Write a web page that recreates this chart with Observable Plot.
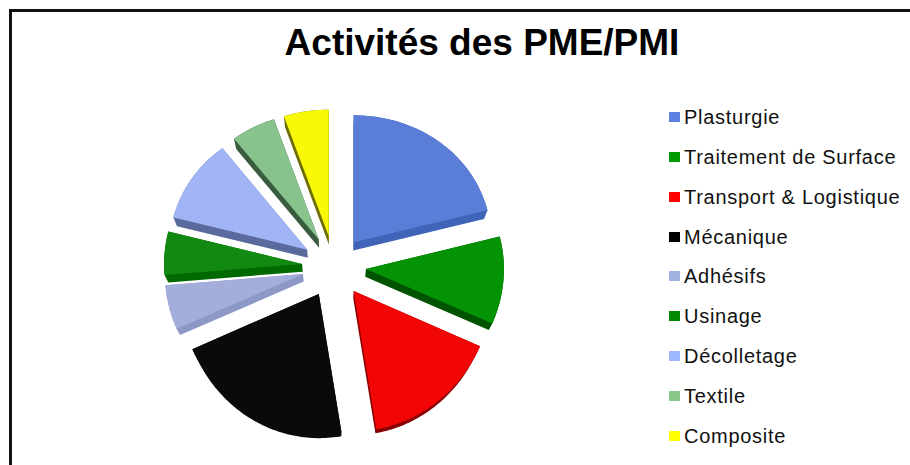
<!DOCTYPE html>
<html><head><meta charset="utf-8">
<script src="https://cdn.jsdelivr.net/npm/d3@7"></script>
<script src="https://cdn.jsdelivr.net/npm/@observablehq/plot@0.6"></script>
<style>
html,body{margin:0;padding:0;background:#fff;overflow:hidden}
#page{position:relative;width:910px;height:465px;overflow:hidden;font-family:"Liberation Sans",Arial,sans-serif;color:#000}
#border{position:absolute;left:9px;top:9px;width:920px;height:480px;border-left:3px solid #111;border-top:3px solid #111}
#title{position:absolute;left:12px;top:19px;text-align:center;font-weight:bold;font-size:37px;line-height:48px;width:940px}
#chart{position:absolute;left:0;top:90px}
#legend{position:absolute;left:668px;top:0}
.row{position:absolute;left:0;white-space:nowrap;font-size:20px;line-height:24px;height:24px;letter-spacing:.72px;padding-left:16px;color:#111}
.sw{position:absolute;left:1px;top:7px;width:11px;height:10px}
</style></head><body>
<div id="page"><div id="border"></div><div id="title">Activités des PME/PMI</div><div id="chart"></div><div id="legend"></div></div>
<script>
const categories = ["Plasturgie","Traitement de Surface","Transport & Logistique","Mécanique","Adhésifs","Usinage","Décolletage","Textile","Composite"];
const values = [20,10,15,20,5,5,10,5,5];
const faceColors = ["#5a7ed8","#049304","#f20505","#0a0a0a","#a3aedb","#128a12","#a0b4f6","#88c28c","#f8f808"];
const sideColors = ["#4064b8","#005400","#8a0000","#0a0a0a","#8c98c6","#006a00","#5a6a9c","#3a5c3e","#6e6e00"];
const legendColors = ["#5b82e0","#009900","#ff0000","#000000","#a0b0e0","#008800","#a0b8ff","#88c888","#ffff00"];

const explode = 0.232, k = 0.978, vanishY = 2.6, tilt = 0.036;
const project = ([x, y]) => [x, y + tilt * y * y];
const arcs = d3.pie().sort(null)(values);
const faces = [], sides = [];
arcs.forEach((a, i) => {
  const mid = (a.startAngle + a.endAngle) / 2;
  const ox = explode * Math.sin(mid), oy = -explode * Math.cos(mid);
  const pts = [[ox, oy]];
  const n = Math.ceil((a.endAngle - a.startAngle) / 0.02);
  for (let j = 0; j <= n; j++) {
    const t = a.startAngle + (a.endAngle - a.startAngle) * j / n;
    pts.push([ox + Math.sin(t), oy - Math.cos(t)]);
  }
  const face = pts.map(project);
  const back = face.map(([x, y]) => [x * k, vanishY + (y - vanishY) * k]);
  d3.polygonHull(face.concat(back)).forEach(([x, y]) => sides.push({x, y, key: i, color: sideColors[i]}));
  face.forEach(([x, y]) => faces.push({x, y, key: i, color: faceColors[i]}));
});

const chart = Plot.plot({
  width: 630, height: 375, margin: 0,
  x: {domain: [-1, 1], range: [195.5, 471.5], axis: null},
  y: {domain: [-1, 1], range: [42.5, 309.5], axis: null},
  marks: [
    Plot.line(sides, {x: "x", y: "y", z: "key", fill: "color", stroke: "none"}),
    Plot.line(faces, {x: "x", y: "y", z: "key", fill: "color", stroke: "none"})
  ]
});
document.getElementById("chart").append(chart);

const rowTops = [105,145,185,225,264,304,344,384,424];
const legend = document.getElementById("legend");
categories.forEach((c, i) => {
  const r = document.createElement("div");
  r.className = "row"; r.style.top = rowTops[i] + "px";
  const s = document.createElement("span");
  s.className = "sw"; s.style.background = legendColors[i];
  r.append(s, document.createTextNode(c));
  legend.append(r);
});
</script></body></html>
